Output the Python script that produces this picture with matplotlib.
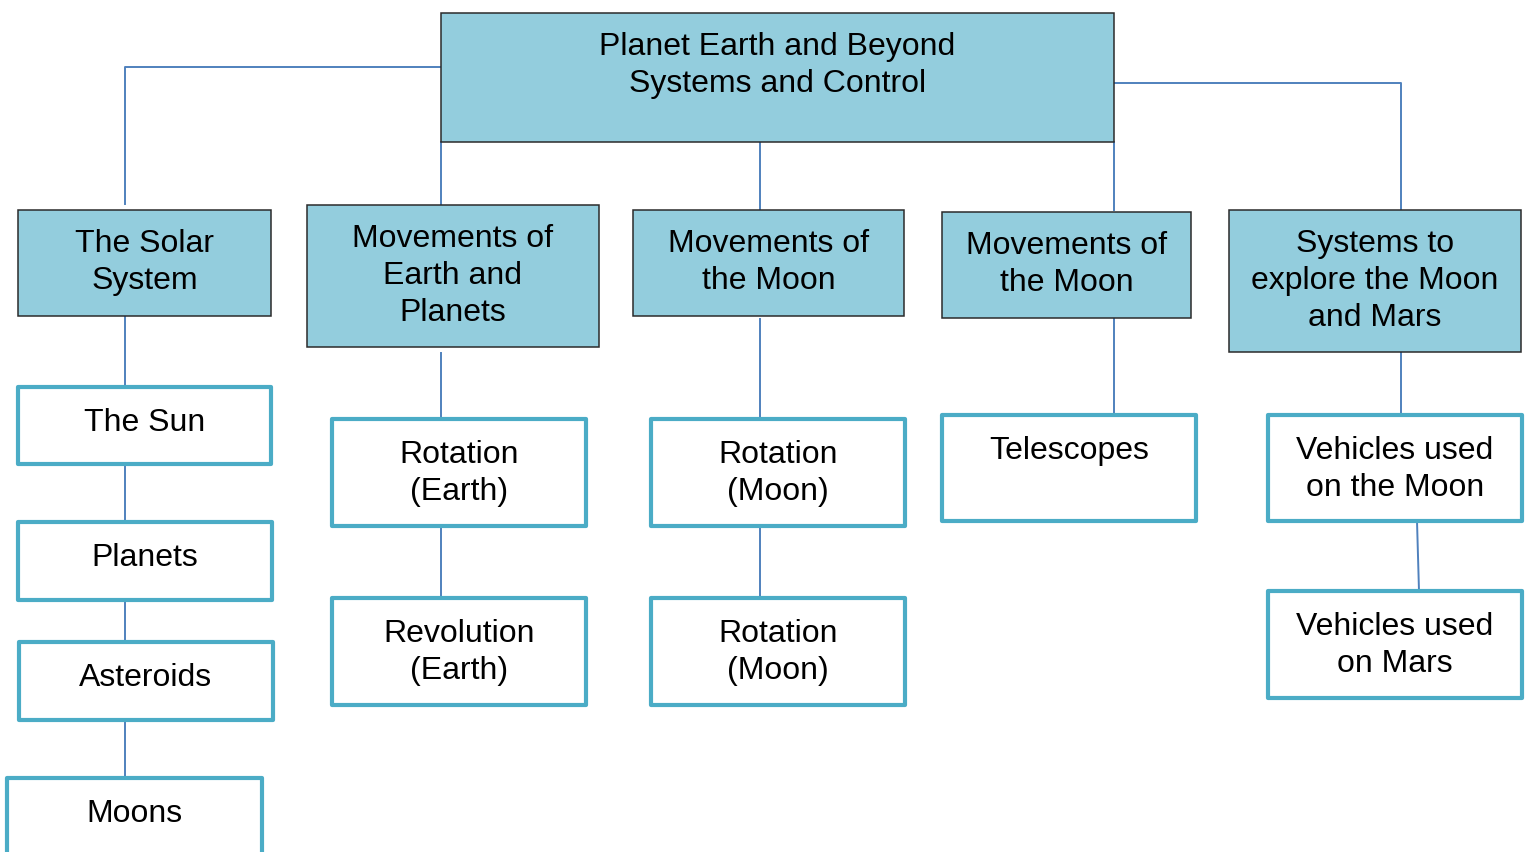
import matplotlib.pyplot as plt
from matplotlib.patches import Rectangle

plt.rcParams['font.family'] = ['Liberation Sans', 'DejaVu Sans']

# labels
title_lines = ['Planet Earth and Beyond', 'Systems and Control']
topics = ['The Solar\nSystem', 'Movements of\nEarth and\nPlanets', 'Movements of\nthe Moon',
          'Movements of\nthe Moon', 'Systems to\nexplore the Moon\nand Mars']
subtopics = [
    ['The Sun', 'Planets', 'Asteroids', 'Moons'],
    ['Rotation\n(Earth)', 'Revolution\n(Earth)'],
    ['Rotation\n(Moon)', 'Rotation\n(Moon)'],
    ['Telescopes'],
    ['Vehicles used\non the Moon', 'Vehicles used\non Mars'],
]

# layout in pixels (x0, y0, x1, y1)
title_box = (441, 14, 1114, 143)
topic_boxes = [(18, 211, 271, 317), (307, 206, 599, 348), (633, 211, 904, 317),
               (942, 213, 1191, 319), (1229, 211, 1521, 353)]
sub_boxes = [
    [(18, 388, 271, 465), (18, 523, 272, 601), (19, 643, 273, 721), (7, 779, 262, 870)],
    [(332, 420, 586, 527), (332, 599, 586, 706)],
    [(651, 420, 905, 527), (651, 599, 905, 706)],
    [(942, 416, 1196, 522)],
    [(1268, 416, 1522, 522), (1268, 592, 1522, 699)],
]
# connector paths
connectors = [
    [(441, 68), (125, 68), (125, 205)],
    [(1114, 84), (1401, 84), (1401, 211)],
    [(441, 143), (441, 206)],
    [(760, 143), (760, 211)],
    [(1114, 143), (1114, 211)],
    [(125, 317), (125, 388)], [(125, 465), (125, 523)],
    [(125, 601), (125, 643)], [(125, 721), (125, 779)],
    [(441, 354), (441, 420)], [(441, 527), (441, 599)],
    [(760, 320), (760, 420)], [(760, 527), (760, 599)],
    [(1114, 319), (1114, 416)],
    [(1401, 353), (1401, 416)], [(1417, 522), (1419, 592)],
]

fill = '#93CDDD'
teal = '#4BACC6'
blue = '#4F81BD'
fs = 23

fig = plt.figure(figsize=(15.3, 8.53), dpi=100)
ax = fig.add_axes([0, 0, 1, 1])
ax.set_xlim(0, 1530)
ax.set_ylim(853, 0)
ax.axis('off')

for path in connectors:
    xs, ys = zip(*path)
    ax.plot(xs, ys, color=blue, lw=1.4, zorder=1)


def box(rect, text, filled):
    x0, y0, x1, y1 = rect
    if filled:
        ax.add_patch(Rectangle((x0, y0), x1 - x0, y1 - y0, facecolor=fill,
                               edgecolor='#2b2b2b', lw=1.1, zorder=2))
        first = 41
    else:
        ax.add_patch(Rectangle((x0, y0), x1 - x0, y1 - y0, facecolor='white',
                               edgecolor=teal, lw=3.0, joinstyle='round', zorder=2))
        first = 43
    for i, line in enumerate(text.split('\n')):
        ax.text((x0 + x1) / 2, y0 + first + i * 37, line, ha='center', va='baseline',
                fontsize=fs, color='black', zorder=3)


box(title_box, '\n'.join(title_lines), True)
for rect, label in zip(topic_boxes, topics):
    box(rect, label, True)
for rects, labels in zip(sub_boxes, subtopics):
    for rect, label in zip(rects, labels):
        box(rect, label, False)

fig.savefig('out.png', dpi=100)
